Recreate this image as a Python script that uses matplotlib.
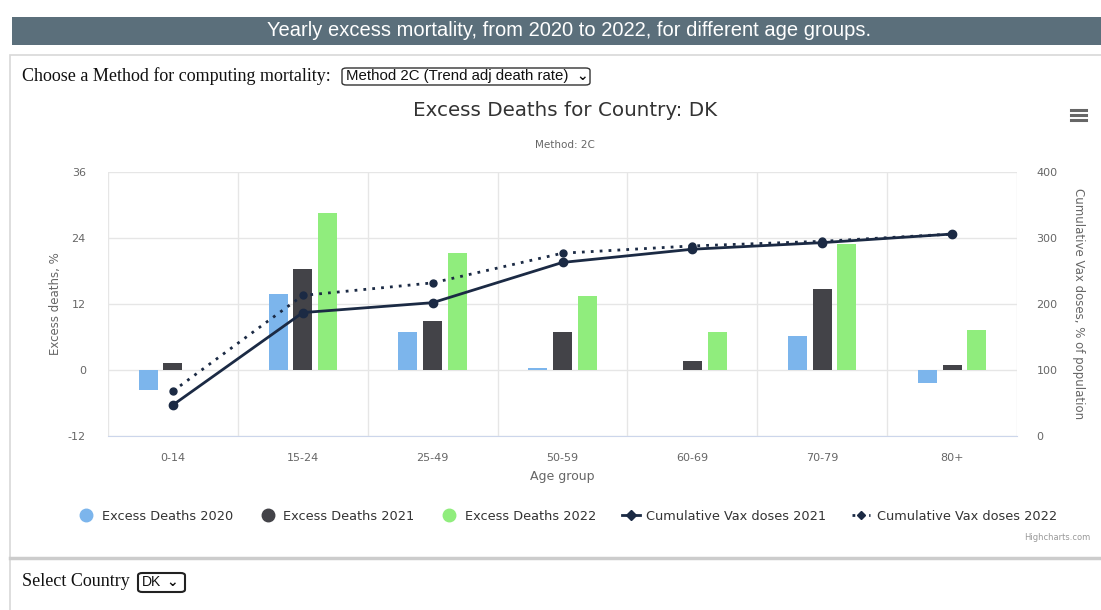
import matplotlib
matplotlib.use('Agg')
import matplotlib.pyplot as plt
import numpy as np
from matplotlib.lines import Line2D
from matplotlib.patches import Rectangle, FancyBboxPatch

plt.rcParams['axes.unicode_minus'] = False

age_groups = ['0-14', '15-24', '25-49', '50-59', '60-69', '70-79', '80+']
excess_2020 = [-3.6, 13.9, 7.0, 0.4, 0.0, 6.1, -2.4]
excess_2021 = [1.3, 18.4, 8.9, 7.0, 1.7, 14.7, 0.9]
excess_2022 = [0.0, 28.5, 21.2, 13.5, 7.0, 22.9, 7.2]
vax_2021 = [47, 187, 202, 263, 283, 293, 306]
vax_2022 = [68, 213, 232, 277, 288, 295, 306]

left_ticks = [-12, 0, 12, 24, 36]
right_ticks = [0, 100, 200, 300, 400]

c2020 = '#7cb5ec'
c2021 = '#434348'
c2022 = '#90ed7d'
cline = '#1b2a44'
tick_col = '#666666'

fig = plt.figure(figsize=(11.01, 6.10), dpi=100)

# page decorations
fig.patches.append(Rectangle((12 / 1101, 1 - 45 / 610), 1089 / 1101, 28 / 610,
                             transform=fig.transFigure, facecolor='#5b6f7b', edgecolor='none'))
fig.text(0.517, 1 - 31 / 610, 'Yearly excess mortality, from 2020 to 2022, for different age groups.',
         color='white', fontsize=14.5, ha='center', va='center', family='Liberation Sans')
fig.patches.append(Rectangle((10 / 1101, -0.01), 1.0, 1 - 55 / 610 + 0.01,
                             transform=fig.transFigure, facecolor='none', edgecolor='#d8d8d8', lw=1.2))
fig.text(22 / 1101, 1 - 76 / 610, 'Choose a Method for computing mortality:', fontsize=13,
         family='Liberation Serif', ha='left', va='center', color='#111111')
fig.patches.append(FancyBboxPatch((342 / 1101, 1 - 85 / 610), 248 / 1101, 17 / 610,
                                  boxstyle='round,pad=0.0,rounding_size=0.004', transform=fig.transFigure,
                                  facecolor='white', edgecolor='#333333', lw=1))
fig.text(346 / 1101, 1 - 76 / 610, 'Method 2C (Trend adj death rate)', fontsize=10.8,
         family='Liberation Sans', ha='left', va='center', color='#111111')
fig.text(576 / 1101, 1 - 76 / 610, '\u2304', fontsize=10, fontweight='bold',
         ha='left', va='center', color='#111111')

fig.text(565 / 1101, 1 - 111 / 610, 'Excess Deaths for Country: DK', fontsize=14.3,
         ha='center', va='center', color='#333333')
fig.text(565 / 1101, 1 - 145 / 610, 'Method: 2C', fontsize=7.5,
         ha='center', va='center', color='#666666')
for dy in (-5, 0, 5):
    fig.add_artist(Line2D([1071 / 1101, 1086 / 1101], [1 - (115 + dy) / 610] * 2,
                          transform=fig.transFigure, color='#666666', lw=2.2))

# chart
ax = fig.add_axes([108 / 1101, 1 - 436 / 610, 909 / 1101, 264 / 610])
x = np.arange(len(age_groups))
w = 0.146
off = 0.19
ax.bar(x - off, excess_2020, w, color=c2020, zorder=2)
ax.bar(x, excess_2021, w, color=c2021, zorder=2)
ax.bar(x + off, excess_2022, w, color=c2022, zorder=2)
ax.set_xlim(-0.5, len(age_groups) - 0.5)
ax.set_ylim(-12, 36)
ax.set_yticks(left_ticks)
ax.set_xticks(x)
ax.set_xticklabels(age_groups)
ax.set_xticks(np.arange(len(age_groups) + 1) - 0.5, minor=True)
ax.grid(True, which='minor', axis='x', color='#e6e6e6', lw=1)
ax.grid(True, which='major', axis='y', color='#e6e6e6', lw=1)
ax.tick_params(axis='x', which='both', length=0, pad=12, labelsize=8, labelcolor=tick_col)
ax.tick_params(axis='y', length=0, pad=16, labelsize=8, labelcolor=tick_col)
for s in ('top', 'left', 'right'):
    ax.spines[s].set_visible(False)
ax.spines['bottom'].set_color('#ccd6eb')
ax.set_axisbelow(True)
ax.set_xlabel('Age group', fontsize=9, color=tick_col, labelpad=5)
ax.set_ylabel('Excess deaths, %', fontsize=8.5, color=tick_col, labelpad=4)

ax2 = ax.twinx()
ax2.set_ylim(0, 400)
ax2.set_yticks(right_ticks)
ax2.tick_params(axis='y', length=0, pad=14, labelsize=8, labelcolor=tick_col)
for s in ('top', 'left', 'right', 'bottom'):
    ax2.spines[s].set_visible(False)
ax2.plot(x, vax_2021, color=cline, lw=2, marker='o', ms=6, zorder=4)
ax2.plot(x, vax_2022, color=cline, lw=2, ls=(0, (1, 2.2)), marker='o', ms=5, zorder=3)
ax2.set_ylabel('Cumulative Vax doses, % of population', fontsize=8.5, color=tick_col,
               rotation=-90, labelpad=20)

handles = [
    Line2D([], [], ls='none', marker='o', ms=9, color=c2020),
    Line2D([], [], ls='none', marker='o', ms=9, color=c2021),
    Line2D([], [], ls='none', marker='o', ms=9, color=c2022),
    Line2D([], [], color=cline, lw=2, marker='D', ms=5),
    Line2D([], [], color=cline, lw=2, ls=(0, (1, 2)), marker='D', ms=4),
]
labels = ['Excess Deaths 2020', 'Excess Deaths 2021', 'Excess Deaths 2022',
          'Cumulative Vax doses 2021', 'Cumulative Vax doses 2022']
fig.legend(handles, labels, loc='center', bbox_to_anchor=(567 / 1101, 1 - 516 / 610), ncol=5,
           frameon=False, fontsize=9.3, handlelength=1.4, handletextpad=0.5, columnspacing=2.0,
           labelcolor='#333333')
fig.text(1090 / 1101, 1 - 537 / 610, 'Highcharts.com', fontsize=6, ha='right', va='center', color='#999999')

fig.add_artist(Line2D([10 / 1101, 1.0], [1 - 558 / 610] * 2, transform=fig.transFigure,
                      color='#cccccc', lw=2.5))
fig.text(22 / 1101, 1 - 582 / 610, 'Select Country', fontsize=13, family='Liberation Serif',
         ha='left', va='center', color='#111111')
fig.patches.append(FancyBboxPatch((138 / 1101, 1 - 592 / 610), 47 / 1101, 19 / 610,
                                  boxstyle='round,pad=0.0,rounding_size=0.004', transform=fig.transFigure,
                                  facecolor='white', edgecolor='#222222', lw=1.5))
fig.text(142 / 1101, 1 - 582 / 610, 'DK', fontsize=10, family='Liberation Sans',
         ha='left', va='center', color='#111111')
fig.text(166 / 1101, 1 - 582 / 610, '\u2304', fontsize=10, fontweight='bold',
         ha='left', va='center', color='#111111')

fig.savefig('out.png', dpi=100)
